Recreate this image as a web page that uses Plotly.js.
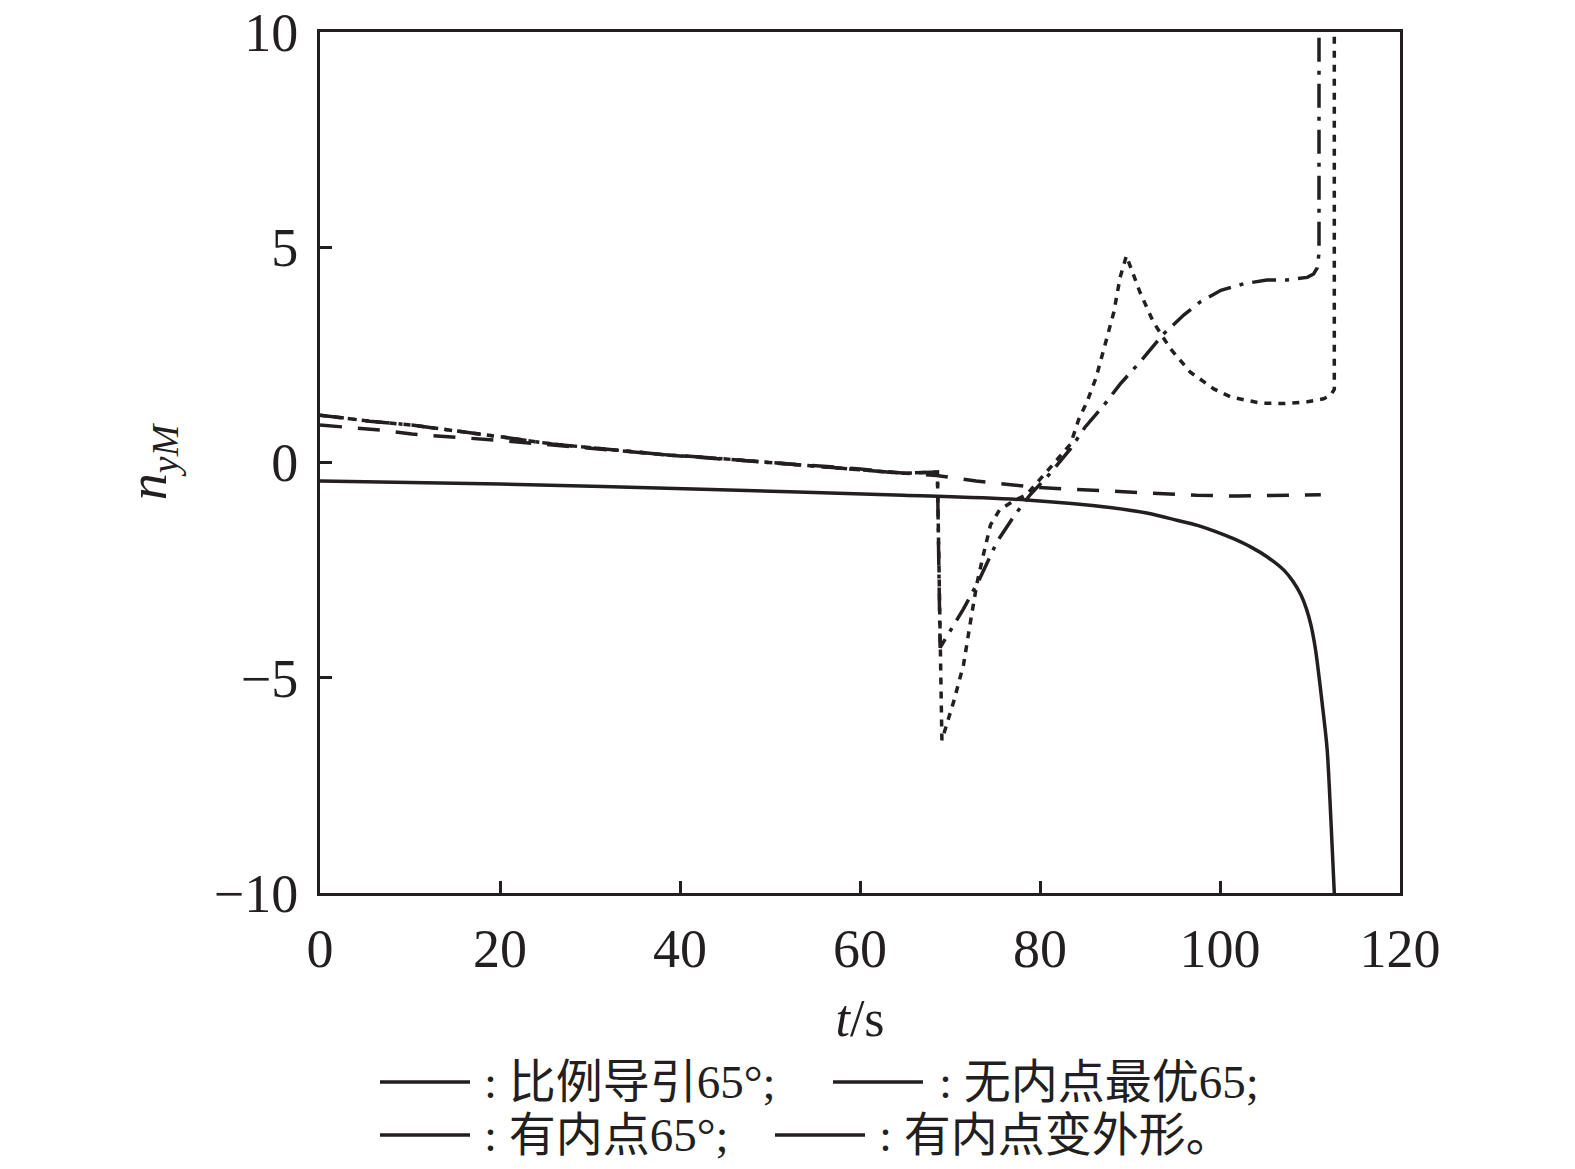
<!DOCTYPE html>
<html>
<head>
<meta charset="utf-8">
<script src="https://cdn.plot.ly/plotly-3.0.1.min.js"></script>
<style>
  html, body { margin: 0; padding: 0; background: #fff; }
  #chart { width: 1575px; height: 1169px; }
</style>
</head>
<body>
<div id="chart"></div>
<script>
// 比例导引65°  (solid)
t_pn = [0, 20, 42.5, 64.8, 78.5, 88, 92, 95.2, 97.5, 99.6, 101.5, 103.4, 105.3, 107.1, 108.1, 109, 109.6, 110.1, 110.5, 110.8, 111.3, 111.9, 112.3, 112.7]
n_pn = [-0.43, -0.5, -0.62, -0.76, -0.87, -1.05, -1.18, -1.34, -1.46, -1.61, -1.77, -1.96, -2.2, -2.5, -2.76, -3.08, -3.4, -3.77, -4.2, -4.63, -5.5, -6.65, -8.2, -10]

// 无内点最优65 (dashed)
t_opt = [0, 6.9, 10.2, 14.7, 19.5, 30, 40, 50, 60, 65, 68.5, 72.9, 79.6, 83.3, 88.2, 97.4, 101.9, 111.2]
n_opt = [0.87, 0.75, 0.66, 0.59, 0.52, 0.33, 0.15, 0.0, -0.15, -0.25, -0.3, -0.43, -0.58, -0.62, -0.67, -0.76, -0.78, -0.75]

// 有内点65° (dash-dot)
t_in = [0, 5.5, 10.2, 14.7, 20.3, 25.8, 31.4, 38.8, 42.2, 50, 60, 64.8, 68.6, 68.9, 71.5, 73.3, 75.2, 77.2, 78.9, 81.1, 83.4, 85, 87.1, 88.9, 91.5, 93.7, 96, 97.8, 100.1, 102.6, 105.2, 107.4, 109.7, 110.4, 110.8, 111.0, 111.0]
n_in = [1.1, 0.96, 0.87, 0.75, 0.59, 0.43, 0.31, 0.17, 0.13, 0.0, -0.15, -0.25, -0.22, -4.3, -3.4, -2.7, -1.85, -1.22, -0.75, -0.26, 0.32, 0.82, 1.33, 1.82, 2.43, 2.98, 3.43, 3.73, 4.0, 4.15, 4.24, 4.24, 4.3, 4.38, 4.52, 4.86, 10]

// 有内点变外形 (dotted)
t_sh = [0, 5.5, 10.2, 14.7, 20.3, 25.8, 31.4, 38.8, 42.2, 50, 60, 64.8, 68.6, 69.1, 70.4, 71.5, 72.4, 73.0, 73.7, 74.5, 75.5, 77, 78.5, 80, 81.5, 83.4, 84.3, 85.2, 86.2, 87.1, 88.2, 88.9, 89.6, 91.1, 92.6, 94.5, 96.7, 99.3, 101.2, 104.5, 107.1, 109.7, 111.5, 112.3, 112.7, 112.7]
n_sh = [1.1, 0.96, 0.87, 0.75, 0.59, 0.43, 0.31, 0.17, 0.13, 0.0, -0.15, -0.25, -0.22, -6.45, -5.56, -4.7, -3.54, -2.8, -2.15, -1.45, -1.1, -0.9, -0.75, -0.4, -0.03, 0.43, 1.0, 1.4, 1.95, 2.64, 3.49, 4.3, 4.8, 3.96, 3.26, 2.64, 2.1, 1.71, 1.52, 1.38, 1.37, 1.41, 1.48, 1.56, 1.7, 10]

legend_text = [': 比例导引65°;', ': 无内点最优65;', ': 有内点65°;', ': 有内点变外形。']

ink = '#231f20'
serif = 'Liberation Serif, Times New Roman, Noto Sans CJK SC, serif'

traces = [
  {x: t_pn, y: n_pn, mode: 'lines', type: 'scatter', line: {color: ink, width: 3.5, shape: 'spline', smoothing: 0.8}},
  {x: t_opt, y: n_opt, mode: 'lines', type: 'scatter', line: {color: ink, width: 3.5, dash: '22px,16px'}},
  {x: t_in, y: n_in, mode: 'lines', type: 'scatter', line: {color: ink, width: 3.5, dash: '24px,9px,4px,9px'}},
  {x: t_sh, y: n_sh, mode: 'lines', type: 'scatter', line: {color: ink, width: 3.5, dash: '7px,7px'}}
]

// pixel -> paper helpers for the hand-drawn legend below the plot
px = (x) => (x - 320) / 1080
py = (y) => (893 - y) / 861

legend_rows = [[380, 482, 1082], [833, 937, 1082], [380, 482, 1135], [775, 877, 1135]]
shapes = []
annotations = []
for (i = 0; i < 4; i++) {
  r = legend_rows[i]
  shapes.push({type: 'line', xref: 'paper', yref: 'paper', x0: px(r[0]), x1: px(r[0] + 90), y0: py(r[2]), y1: py(r[2]), line: {color: ink, width: 3.5}})
  annotations.push({xref: 'paper', yref: 'paper', x: px(r[1]), y: py(r[2]), xanchor: 'left', yanchor: 'middle', showarrow: false, text: legend_text[i], font: {family: serif, size: 47, color: ink}})
}

layout = {
  width: 1575,
  height: 1169,
  margin: {l: 320, r: 175, t: 32, b: 276},
  paper_bgcolor: '#fff',
  plot_bgcolor: '#fff',
  showlegend: false,
  font: {family: serif, color: ink, size: 50},
  xaxis: {
    range: [0, 120],
    tickvals: [0, 20, 40, 60, 80, 100, 120],
    ticks: 'inside', ticklen: 12, tickwidth: 3, tickcolor: ink,
    showline: true, linewidth: 3, linecolor: ink, mirror: true,
    showgrid: false, zeroline: false,
    tickfont: {family: serif, size: 54, color: ink},
    ticklabelstandoff: 6,
    title: {text: '<i>t</i>/s', font: {family: serif, size: 52, color: ink}, standoff: 22}
  },
  yaxis: {
    range: [-10, 10],
    tickvals: [-10, -5, 0, 5, 10],
    ticks: 'inside', ticklen: 12, tickwidth: 3, tickcolor: ink,
    showline: true, linewidth: 3, linecolor: ink, mirror: true,
    showgrid: false, zeroline: false,
    tickfont: {family: serif, size: 54, color: ink},
    ticklabelstandoff: 8,
    title: {text: '<i>n</i><sub><i>yM</i></sub>', font: {family: serif, size: 54, color: ink}, standoff: 30}
  },
  shapes: shapes,
  annotations: annotations
}

Plotly.newPlot('chart', traces, layout, {displayModeBar: false, staticPlot: true})
</script>
</body>
</html>
